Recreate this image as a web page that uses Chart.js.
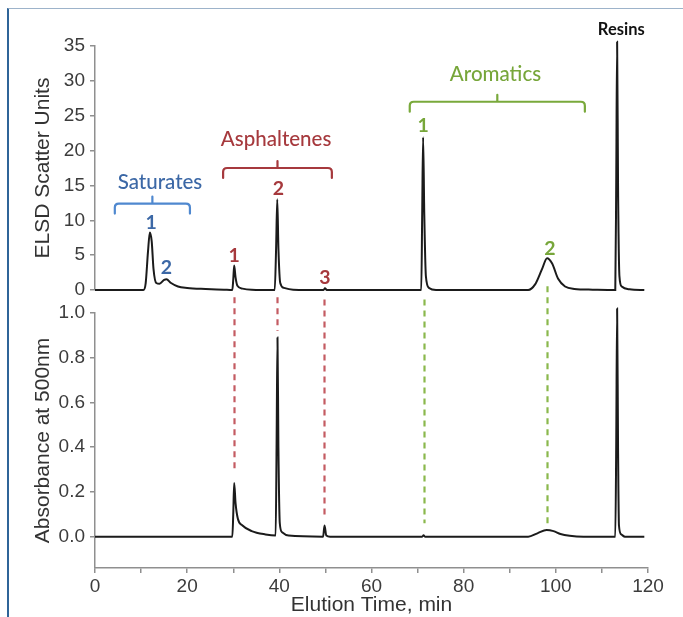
<!DOCTYPE html>
<html>
<head>
<meta charset="utf-8">
<script src="https://cdn.jsdelivr.net/npm/chart.js@4/dist/chart.umd.min.js"></script>
<style>
  html, body { margin: 0; padding: 0; background: #ffffff; }
  #wrap { position: relative; width: 683px; height: 617px; overflow: hidden; }
  #frame { position: absolute; left: 7px; top: 8px; right: -10px; bottom: -10px;
           border-left: 2px solid #2f6498; border-top: 1px solid #9db3ca; }
  canvas { position: absolute; left: 0; top: 0; }
</style>
</head>
<body>
<div id="wrap">
  <div id="frame"></div>
  <canvas id="c" width="683" height="617"></canvas>
</div>
<script>
// ---------- DATA ----------
// ELSD trace (top panel)
const elsdTime  = [0, 10.5, 11.0, 11.5, 11.9, 12.3, 12.7, 13.3, 14.0, 15.0, 15.5, 16.5, 18, 20, 24, 28,
                   29.8, 30.0, 30.2, 30.5, 30.9, 32, 34, 39.0, 39.3, 39.55, 39.8, 40.2, 41, 43,
                   49.6, 49.9, 50.3, 70.8, 71.0, 71.2, 71.45, 71.8, 72.5, 74,
                   94, 95.5, 97, 98.1, 99.2, 100.5, 102, 104, 108,
                   112.9, 113.1, 113.3, 113.5, 113.8, 114.3, 116, 119.2];
const elsdValue = [0, 0, 1.0, 5.5, 8.25, 7.0, 3.0, 1.0, 0.9, 1.45, 1.55, 1.0, 0.5, 0.3, 0.15, 0.05,
                   0, 1.5, 3.5, 1.8, 0.6, 0.2, 0.05, 0, 6, 13.0, 6, 1.0, 0.3, 0.05,
                   0, 0.25, 0, 0, 11, 21.9, 11, 2, 0.3, 0,
                   0, 0.8, 3.0, 4.56, 3.8, 1.6, 0.5, 0.15, 0.05,
                   0, 15, 35.6, 15, 2, 0.5, 0.1, 0];
// Absorbance trace (bottom panel)
const absTime  = [0, 29.8, 30.0, 30.2, 30.5, 31, 32, 34, 37, 39.2, 39.4, 39.6, 39.8, 40.1, 40.6, 42,
                  49.5, 49.8, 50.2, 51, 71.0, 71.3, 71.6, 94, 96, 98, 99.5, 101, 103, 106,
                  112.9, 113.1, 113.3, 113.5, 113.7, 114.2, 115, 119.2];
const absValue = [0, 0, 0.1, 0.24, 0.15, 0.08, 0.05, 0.025, 0.01, 0.005, 0.4, 0.89, 0.4, 0.06, 0.02, 0.005,
                  0, 0.05, 0.005, 0, 0, 0.006, 0, 0, 0.015, 0.03, 0.025, 0.012, 0.004, 0,
                  0, 0.4, 1.02, 0.4, 0.05, 0.01, 0, 0];

// Axis ticks
const elsdTicks = [0, 5, 10, 15, 20, 25, 30, 35];
const absTicks  = [0.0, 0.2, 0.4, 0.6, 0.8, 1.0];
const timeTicks = [0, 10, 20, 30, 40, 50, 60, 70, 80, 90, 100, 110, 120];

// Fraction groups (brackets, in ELSD units)
const groupNames      = ['Saturates', 'Asphaltenes', 'Aromatics'];
const groupFrom       = [4.3, 27.8, 68.3];
const groupTo         = [20.6, 51.4, 106.3];
const groupLevel      = [12.4, 17.5, 27.0];
const groupLabelTime  = [14.1, 39.3, 86.9];
const groupLabelLevel = [15.5, 21.6, 30.9];

// Peak numbers (in ELSD units)
const peakLabels = ['1', '2', '1', '2', '3', '1', '2'];
const peakGroup  = [0, 0, 1, 1, 1, 2, 2];
const peakTime   = [12.2, 15.5, 30.2, 39.8, 49.9, 71.2, 98.7];
const peakLevel  = [9.6, 3.2, 4.9, 14.5, 1.7, 23.5, 5.9];

// Dashed connectors (in absorbance units)
const linkGroup = [1, 1, 1, 2, 2];
const linkTime  = [30.2, 39.6, 49.8, 71.5, 98.1];
const linkFrom  = [1.07, 1.07, 1.06, 1.06, 1.12];
const linkTo    = [0.29, 0.92, 0.08, 0.06, 0.05];

const resinsLabel = 'Resins';
const resinsTime = 114.2, resinsLevel = 37.4;

// ---------- STYLE ----------
const textColors    = ['#3c68a6', '#a6393d', '#77a63a'];
const bracketColors = ['#4f88cf', '#a6393d', '#79a93b'];
const dashColors    = ['#4f88cf', '#c45b62', '#8ab84c'];
const axisGrey = '#8f8f8f';
const tickText = '#3c3c3c';

Chart.defaults.font.family = '"Liberation Sans", Arial, sans-serif';
Chart.defaults.color = tickText;

const toXY = (xs, ys) => xs.map((x, i) => ({ x: x, y: ys[i] }));

const annotations = {
  id: 'annotations',
  afterDatasetsDraw(chart) {
    const ctx = chart.ctx;
    const xs = chart.scales.x, yt = chart.scales.yTop, yb = chart.scales.yBot;
    ctx.save();
    // dashed connectors
    ctx.lineWidth = 2.2;
    ctx.setLineDash([6, 5]);
    linkTime.forEach((t, i) => {
      const px = Math.round(xs.getPixelForValue(t)) + 0.5;
      ctx.strokeStyle = dashColors[linkGroup[i]];
      ctx.beginPath();
      ctx.moveTo(px, yb.getPixelForValue(linkFrom[i]));
      ctx.lineTo(px, yb.getPixelForValue(linkTo[i]));
      ctx.stroke();
    });
    ctx.setLineDash([]);
    // brackets
    ctx.lineWidth = 2.2;
    ctx.lineJoin = 'round';
    ctx.lineCap = 'round';
    groupNames.forEach((name, i) => {
      const x1 = xs.getPixelForValue(groupFrom[i]);
      const x2 = xs.getPixelForValue(groupTo[i]);
      const xc = (x1 + x2) / 2;
      const y = yt.getPixelForValue(groupLevel[i]);
      const r = 4;
      ctx.strokeStyle = bracketColors[i];
      ctx.beginPath();
      ctx.moveTo(x1, y + 10);
      ctx.lineTo(x1, y + r);
      ctx.quadraticCurveTo(x1, y, x1 + r, y);
      ctx.lineTo(x2 - r, y);
      ctx.quadraticCurveTo(x2, y, x2, y + r);
      ctx.lineTo(x2, y + 10);
      ctx.moveTo(xc, y);
      ctx.lineTo(xc, y - 7);
      ctx.stroke();
      ctx.fillStyle = textColors[i];
      ctx.font = '500 20.5px Lato, "Open Sans", sans-serif';
      ctx.textAlign = 'center';
      ctx.textBaseline = 'middle';
      ctx.fillText(name, xs.getPixelForValue(groupLabelTime[i]), yt.getPixelForValue(groupLabelLevel[i]));
    });
    // peak numbers
    ctx.font = 'bold 19.5px Lato, "Open Sans", sans-serif';
    ctx.textAlign = 'center';
    ctx.textBaseline = 'middle';
    peakLabels.forEach((lab, i) => {
      ctx.fillStyle = textColors[peakGroup[i]];
      ctx.fillText(lab, xs.getPixelForValue(peakTime[i]), yt.getPixelForValue(peakLevel[i]));
    });
    // Resins
    ctx.fillStyle = '#111111';
    ctx.font = 'bold 16.5px Lato, "Open Sans", sans-serif';
    ctx.fillText(resinsLabel, xs.getPixelForValue(resinsTime), yt.getPixelForValue(resinsLevel));
    ctx.restore();
  }
};

const yCommon = {
  grid: { display: true, drawOnChartArea: false, tickLength: 5, color: axisGrey, lineWidth: 1.5 },
  border: { display: true, color: axisGrey, width: 1.5 },
  ticks: { padding: 5, font: { size: 19 }, color: tickText, autoSkip: false },
  title: { display: true, color: '#333333', font: { size: 21 }, padding: { top: 31, bottom: 0 } },
  afterFit: s => { s.width = 95; }
};

new Chart(document.getElementById('c'), {
  type: 'line',
  data: {
    datasets: [
      { label: 'ELSD', data: toXY(elsdTime, elsdValue), xAxisID: 'x', yAxisID: 'yTop',
        borderColor: '#1b1b1b', borderWidth: 2, pointRadius: 0, cubicInterpolationMode: 'monotone', clip: false },
      { label: 'Absorbance', data: toXY(absTime, absValue), xAxisID: 'x', yAxisID: 'yBot',
        borderColor: '#1b1b1b', borderWidth: 2, pointRadius: 0, cubicInterpolationMode: 'monotone', clip: false }
    ]
  },
  options: {
    responsive: false,
    animation: false,
    events: [],
    layout: { padding: { left: 0, right: 35, top: 46, bottom: 0 } },
    plugins: { legend: { display: false }, tooltip: { enabled: false } },
    scales: {
      x: {
        type: 'linear', position: 'bottom', min: 0, max: 120,
        afterBuildTicks: s => { s.ticks = timeTicks.map(v => ({ value: v })); },
        ticks: { padding: 2, font: { size: 19 }, color: tickText, maxRotation: 0, autoSkip: false,
                 callback: v => (v % 20 === 0 ? String(v) : '') },
        grid: { display: true, drawOnChartArea: false, tickLength: 5, color: axisGrey, lineWidth: 1.5 },
        border: { display: true, color: axisGrey, width: 1.5 },
        title: { display: true, text: 'Elution Time, min', color: '#333333', font: { size: 21 }, padding: { top: 0, bottom: -1 } },
        afterFit: s => { s.height = 49; }
      },
      yTop: Object.assign({}, yCommon, {
        type: 'linear', position: 'left', stack: 'panels', stackWeight: 244, weight: 3,
        min: 0, max: 35,
        afterBuildTicks: s => { s.ticks = elsdTicks.map(v => ({ value: v })); },
        title: Object.assign({}, yCommon.title, { text: 'ELSD Scatter Units' })
      }),
      gap: {
        type: 'linear', position: 'left', stack: 'panels', stackWeight: 23, weight: 2,
        display: false, min: 0, max: 1
      },
      yBot: Object.assign({}, yCommon, {
        type: 'linear', position: 'left', stack: 'panels', stackWeight: 255, weight: 1,
        min: -0.14, max: 1.0,
        afterBuildTicks: s => { s.ticks = absTicks.map(v => ({ value: v })); },
        ticks: Object.assign({}, yCommon.ticks, { callback: v => Number(v).toFixed(1) }),
        title: Object.assign({}, yCommon.title, { text: 'Absorbance at 500nm' })
      })
    }
  },
  plugins: [annotations]
});
</script>
</body>
</html>
